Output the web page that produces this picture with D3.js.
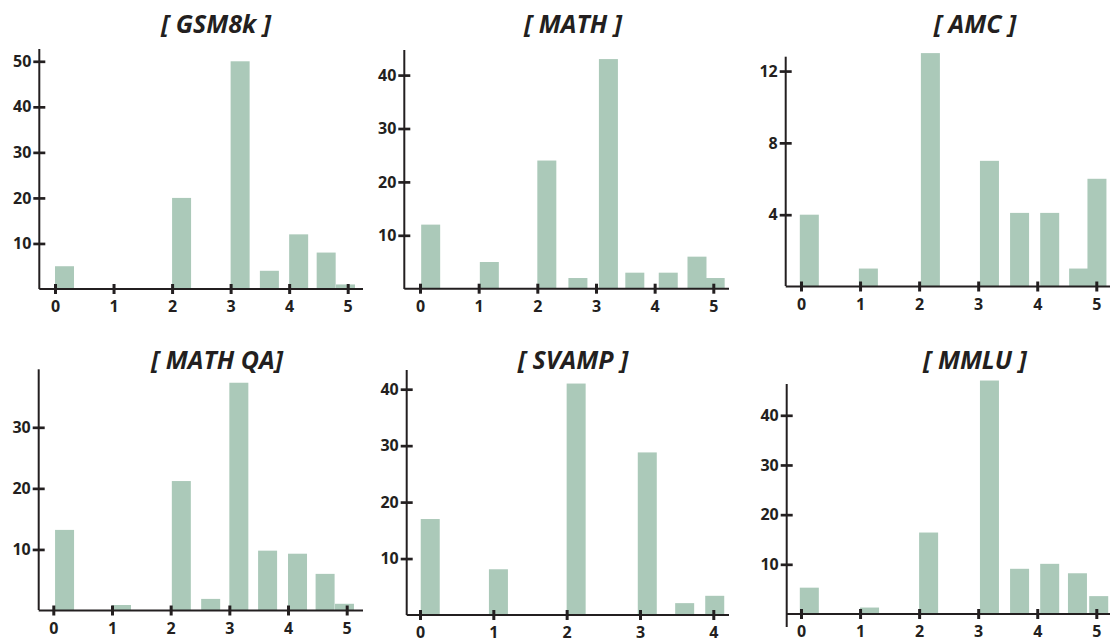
<!DOCTYPE html>
<html>
<head>
<meta charset="utf-8">
<script src="https://cdn.jsdelivr.net/npm/d3@7"></script>
<style>
  body { margin: 0; background: #fff; }
  text { font-family: "Open Sans", sans-serif; }
</style>
</head>
<body>
<svg id="display"></svg>
<script>
"use strict";

// bin positions (in x-axis units) and bar heights
var gsmPos  = [0, 2, 3, 3.5, 4, 4.47, 4.8],
    gsmVals = [5, 20, 50, 4, 12, 8, 1];
var mathPos  = [0.02, 1.02, 2, 2.53, 3.05, 3.5, 4.07, 4.56, 4.87],
    mathVals = [12, 5, 24, 2, 43, 3, 3, 6, 2];
var amcPos  = [-0.02, 0.98, 2.03, 3.03, 3.54, 4.05, 4.54, 4.85],
    amcVals = [4, 1, 13, 7, 4.1, 4.1, 1, 6];
var mathqaPos  = [0.03, 1, 2.02, 2.52, 3, 3.49, 4, 4.47, 4.8],
    mathqaVals = [13.2, 0.9, 21.2, 1.9, 37.3, 9.8, 9.3, 6, 1.1];
var svampPos  = [0.01, 0.94, 2, 2.97, 3.48, 3.89],
    svampVals = [17, 8.1, 41, 28.8, 2.1, 3.4];
var mmluPos  = [-0.02, 1, 2, 3.03, 3.54, 4.05, 4.52, 4.88],
    mmluVals = [5.3, 1.3, 16.4, 47, 9.1, 10.1, 8.2, 3.6];

var titles = ['[ GSM8k ]', '[ MATH ]', '[ AMC ]', '[ MATH QA]', '[ SVAMP ]', '[ MMLU ]'];
var xTicks = [[0,1,2,3,4,5], [0,1,2,3,4,5], [0,1,2,3,4,5], [0,1,2,3,4,5], [0,1,2,3,4], [0,1,2,3,4,5]];
var yTicks = [[10,20,30,40,50], [10,20,30,40], [4,8,12], [10,20,30], [10,20,30,40], [10,20,30,40]];

var width = 1113,
    height = 642;

var svg = d3.select('#display').attr('width', width).attr('height', height);

// pixel frame of each panel
var frames = [
  { ax: 39.3,  x0: 55,    x1: 347.7,  xEnd: 363,  xMax: 5, y0: 289,   yTop: 49,    yMax: 52.7, title: [216, 33],  yBottom: 289 },
  { ax: 404.3, x0: 420,   x1: 713.3,  xEnd: 729,  xMax: 5, y0: 288.7, yTop: 50,    yMax: 44.7, title: [573, 33],  yBottom: 289 },
  { ax: 785.7, x0: 801,   x1: 1096.3, xEnd: 1110, xMax: 5, y0: 286.5, yTop: 56.7,  yMax: 12.8, title: [975, 33],  yBottom: 286 },
  { ax: 38.7,  x0: 53.3,  x1: 346.7,  xEnd: 363,  xMax: 5, y0: 610.5, yTop: 369.3, yMax: 39.5, title: [217, 369], yBottom: 610 },
  { ax: 406.7, x0: 420,   x1: 713.3,  xEnd: 729,  xMax: 4, y0: 615,   yTop: 370,   yMax: 43.4, title: [573, 369], yBottom: 615 },
  { ax: 786.7, x0: 801,   x1: 1096.3, xEnd: 1110, xMax: 5, y0: 614,   yTop: 384,   yMax: 46.3, title: [975, 369], yBottom: 627 }
];

var positions = [gsmPos, mathPos, amcPos, mathqaPos, svampPos, mmluPos];
var values = [gsmVals, mathVals, amcVals, mathqaVals, svampVals, mmluVals];

var barColor = '#abc9b9',
    ink = '#231f20',
    barWidth = 19;

frames.forEach(function(f, i) {
  var g = svg.append('g').attr('class', 'panel');

  var x = d3.scaleLinear().domain([0, f.xMax]).range([f.x0, f.x1]);
  var y = d3.scaleLinear().domain([0, f.yMax]).range([f.y0, f.yTop]);

  var bars = positions[i].map(function(p, j) { return { pos: p, val: values[i][j] }; });

  g.selectAll('.bar').data(bars).enter().append('rect')
    .attr('class', 'bar')
    .attr('x', function(d) { return x(d.pos); })
    .attr('width', barWidth)
    .attr('y', function(d) { return y(d.val); })
    .attr('height', function(d) { return y(0) - y(d.val); })
    .attr('fill', barColor);

  // axis lines
  g.append('line')
    .attr('x1', f.ax).attr('x2', f.ax)
    .attr('y1', f.yTop).attr('y2', f.yBottom)
    .attr('stroke', ink).attr('stroke-width', 2);
  g.append('line')
    .attr('x1', f.ax).attr('x2', f.xEnd)
    .attr('y1', f.y0).attr('y2', f.y0)
    .attr('stroke', ink).attr('stroke-width', 2);

  var xg = g.append('g')
    .attr('transform', 'translate(0,' + f.y0 + ')')
    .call(d3.axisBottom(x).tickValues(xTicks[i]).tickSize(0).tickPadding(12).tickFormat(d3.format('d')));
  xg.select('.domain').remove();
  xg.selectAll('.tick line')
    .attr('y1', -5).attr('y2', 5)
    .attr('stroke', ink).attr('stroke-width', 3);

  var yAxis = d3.axisLeft(y).tickValues(yTicks[i]).tickSize(0).tickPadding(8).tickFormat(d3.format('d'));
  var yg = g.append('g')
    .attr('transform', 'translate(' + f.ax + ',0)')
    .call(yAxis);
  yg.select('.domain').remove();
  yg.selectAll('.tick line')
    .attr('x1', -6).attr('x2', 6)
    .attr('stroke', ink).attr('stroke-width', 2.7);

  [xg, yg].forEach(function(a) {
    a.selectAll('.tick text')
      .attr('fill', ink)
      .style('font-family', '"Open Sans", sans-serif')
      .style('font-size', '16px')
      .style('font-weight', 'bold');
  });

  g.append('text')
    .text(titles[i])
    .attr('x', f.title[0])
    .attr('y', f.title[1])
    .attr('text-anchor', 'middle')
    .attr('fill', ink)
    .style('font-size', '25px')
    .style('font-weight', 'bold')
    .style('font-style', 'italic');
});
</script>
</body>
</html>
